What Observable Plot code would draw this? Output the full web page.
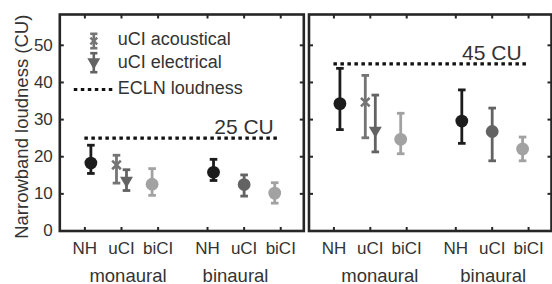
<!DOCTYPE html>
<html>
<head>
<meta charset="utf-8">
<script src="https://cdn.jsdelivr.net/npm/d3@7"></script>
<script src="https://cdn.jsdelivr.net/npm/@observablehq/plot@0.6"></script>
<style>
html, body { margin: 0; padding: 0; background: #fff; }
#chart { position: relative; width: 552px; height: 284px; overflow: hidden; font-family: "Liberation Sans", Arial, sans-serif; }
#chart svg { position: absolute; top: 0; }
</style>
</head>
<body>
<div id="chart"></div>
<script>
// ---- data ----
const conditions = ["NH", "uCI", "biCI"];
const modes = ["monaural", "binaural"];
const series = ["NH", "uCI acoustical", "uCI electrical", "biCI", "NH", "uCI", "biCI"];
const seriesMode = ["monaural", "monaural", "monaural", "monaural", "binaural", "binaural", "binaural"];
const levels = [25, 45]; // ECLN loudness (CU)
const yTicks = [0, 10, 20, 30, 40, 50];
const mean25 = [18.3, 17.8, 13.6, 12.6, 15.8, 12.5, 10.2];
const low25  = [15.5, 12.9, 10.9, 9.6, 13.6, 9.4, 7.5];
const high25 = [23.1, 20.4, 16.5, 16.8, 19.3, 15.1, 13.0];
const mean45 = [34.3, 34.7, 27.1, 24.7, 29.6, 26.8, 22.1];
const low45  = [27.3, 25.1, 21.3, 20.8, 23.6, 18.9, 18.9];
const high45 = [43.8, 41.9, 36.6, 31.7, 38.0, 33.1, 25.3];
const legendLabels = ["uCI acoustical", "uCI electrical", "ECLN loudness"];
const yLabel = "Narrowband loudness (CU)";

// ---- styles ----
const colorOf = {"NH": "#1c1c1c", "uCI": "#636363", "uCI acoustical": "#747474", "uCI electrical": "#636363", "biCI": "#a2a2a2"};
const offsetPx = {"NH": 6, "uCI": 0, "uCI acoustical": -5, "uCI electrical": 5, "biCI": -6};
const axisColor = "#262626";
const textColor = "#333";

const R = (s) => Math.sqrt(s / Math.PI);
const hline = {draw(c, s) { const r = R(s); c.moveTo(-r, 0); c.lineTo(r, 0); }};
const vline = {draw(c, s) { const r = R(s); c.moveTo(0, -r); c.lineTo(0, r); }};
const tickUp = {draw(c, s) { const r = R(s); c.moveTo(0, 0); c.lineTo(0, -r); }};
const tickDown = {draw(c, s) { const r = R(s); c.moveTo(0, 0); c.lineTo(0, r); }};
const tickRight = {draw(c, s) { const r = R(s); c.moveTo(0, 0); c.lineTo(r, 0); }};
const tickLeft = {draw(c, s) { const r = R(s); c.moveTo(0, 0); c.lineTo(-r, 0); }};

const pos = (m, c) => 1 + modes.indexOf(m) * 3.35 + conditions.indexOf(c);

function panel(li, cfg) {
  const level = levels[li];
  const mean = li === 0 ? mean25 : mean45;
  const low = li === 0 ? low25 : low45;
  const high = li === 0 ? high25 : high45;
  const xDomain = [0.315, 6.98], yDomain = [0, 58.3];
  const innerW = cfg.width - cfg.marginLeft - cfg.marginRight;
  const ppu = innerW / (xDomain[1] - xDomain[0]);
  const rows = series.map((s, i) => {
    const cond = s.split(" ")[0];
    return {series: s, cond, mode: seriesMode[i], x: pos(seriesMode[i], cond) + offsetPx[s] / ppu,
      mean: mean[i], lo: low[i], hi: high[i], color: colorOf[s]};
  });
  const ticksX = modes.flatMap(m => conditions.map(c => ({mode: m, cond: c, x: pos(m, c)})));
  const circles = rows.filter(d => d.series === d.cond);
  const acoustical = rows.filter(d => d.series === "uCI acoustical");
  const electrical = rows.filter(d => d.series === "uCI electrical");

  const marks = [
    Plot.frame({stroke: axisColor, strokeWidth: 2.6}),
    Plot.dot(ticksX, {x: "x", y: () => yDomain[0], symbol: tickUp, r: 4, stroke: axisColor, strokeWidth: 2, fill: "none"}),
    Plot.dot(ticksX, {x: "x", y: () => yDomain[1], symbol: tickDown, r: 4, stroke: axisColor, strokeWidth: 2, fill: "none"}),
    Plot.dot(yTicks, {x: () => xDomain[0], y: d => d, symbol: tickRight, r: 4, stroke: axisColor, strokeWidth: 2, fill: "none"}),
    Plot.dot(yTicks, {x: () => xDomain[1], y: d => d, symbol: tickLeft, r: 4, stroke: axisColor, strokeWidth: 2, fill: "none"}),
    Plot.text(ticksX, {x: "x", text: "cond", frameAnchor: "bottom", dy: 17.5, lineAnchor: "middle", fontSize: 17, fill: textColor}),
    Plot.text(modes, {x: (m, i) => pos(m, "uCI") + cfg.groupDx[i] / ppu, text: m => m, frameAnchor: "bottom", dy: 45.5, lineAnchor: "middle", fontSize: 18.5, fill: textColor}),
    Plot.ruleY([level], {y: d => d, x1: () => ticksX[0].x, x2: () => ticksX[ticksX.length - 1].x, stroke: "#111", strokeWidth: 3.2, strokeDasharray: "3.5,3.5"}),
    Plot.text([level], {x: () => ticksX[ticksX.length - 1].x, y: d => d, text: d => `${d} CU`, textAnchor: "end", lineAnchor: "bottom", dx: -7, dy: -4, fontSize: 21, fill: textColor}),
    Plot.ruleX(rows, {x: "x", y1: "lo", y2: "hi", stroke: "color", strokeWidth: 2.8}),
    Plot.dot(rows, {x: "x", y: "lo", symbol: hline, r: 3.8, stroke: "color", strokeWidth: 2.8, fill: "none"}),
    Plot.dot(rows, {x: "x", y: "hi", symbol: hline, r: 3.8, stroke: "color", strokeWidth: 2.8, fill: "none"}),
    Plot.dot(circles, {x: "x", y: "mean", r: 6.4, fill: "color", stroke: "none"}),
    Plot.dot(acoustical, {x: "x", y: "mean", symbol: "times", r: 4, stroke: "color", strokeWidth: 2.6, fill: "none"}),
    Plot.dot(electrical, {x: "x", y: "mean", symbol: "triangle", rotate: 180, r: 4.8, fill: "color", stroke: "none"})
  ];

  if (cfg.showY) {
    marks.push(
      Plot.text(yTicks, {y: d => d, text: d => String(d), frameAnchor: "left", dx: -7, textAnchor: "end", lineAnchor: "middle", fontSize: 17, fill: textColor}),
      Plot.text([yLabel], {text: d => d, frameAnchor: "left", rotate: -90, dx: -45.3, dy: 4, lineAnchor: "top", textAnchor: "middle", fontSize: 18.5, fill: textColor})
    );
  }

  if (cfg.legend) {
    const ca = colorOf["uCI acoustical"], ce = colorOf["uCI electrical"];
    const legendDy = [24.8, 47.6, 73.8];
    marks.push(
      // acoustical swatch
      Plot.dot([0], {frameAnchor: "top-left", dx: 34, dy: 26.5, symbol: vline, r: 7.2, stroke: ca, strokeWidth: 2.6, fill: "none"}),
      Plot.dot([0], {frameAnchor: "top-left", dx: 34, dy: 19.3, symbol: hline, r: 3.6, stroke: ca, strokeWidth: 2.6, fill: "none"}),
      Plot.dot([0], {frameAnchor: "top-left", dx: 34, dy: 33.7, symbol: hline, r: 3.6, stroke: ca, strokeWidth: 2.6, fill: "none"}),
      Plot.dot([0], {frameAnchor: "top-left", dx: 34, dy: 26.5, symbol: "times", r: 3.2, stroke: ca, strokeWidth: 2.4, fill: "none"}),
      // electrical swatch
      Plot.dot([0], {frameAnchor: "top-left", dx: 34, dy: 48.2, symbol: vline, r: 9.5, stroke: ce, strokeWidth: 2.6, fill: "none"}),
      Plot.dot([0], {frameAnchor: "top-left", dx: 34, dy: 38.7, symbol: hline, r: 3.6, stroke: ce, strokeWidth: 2.6, fill: "none"}),
      Plot.dot([0], {frameAnchor: "top-left", dx: 34, dy: 57.7, symbol: hline, r: 3.6, stroke: ce, strokeWidth: 2.6, fill: "none"}),
      Plot.dot([0], {frameAnchor: "top-left", dx: 34, dy: 47.5, symbol: "triangle", rotate: 180, r: 4.8, fill: ce, stroke: "none"}),
      // dotted line swatch
      Plot.dot([0], {frameAnchor: "top-left", dx: 33.3, dy: 75, symbol: hline, r: 19.3, stroke: "#111", strokeWidth: 3.2, strokeDasharray: "3.5,3.5", fill: "none"}),
      ...legendLabels.map((label, i) =>
        Plot.text([label], {frameAnchor: "top-left", dx: 58, dy: legendDy[i], text: d => d, fontSize: 18, fill: textColor, textAnchor: "start", lineAnchor: "middle"}))
    );
  }

  const svg = Plot.plot({
    width: cfg.width,
    height: 284,
    marginTop: 14,
    marginBottom: 53.5,
    marginLeft: cfg.marginLeft,
    marginRight: cfg.marginRight,
    x: {domain: xDomain, axis: null},
    y: {domain: yDomain, axis: null},
    color: {type: "identity"},
    style: {fontFamily: "'Liberation Sans', Arial, sans-serif", background: "transparent", overflow: "visible"},
    marks
  });
  svg.style.left = cfg.left + "px";
  return svg;
}

const chart = document.getElementById("chart");
chart.append(
  panel(0, {left: 0, width: 306, marginLeft: 59.3, marginRight: 2.7, showY: true, legend: true, groupDx: [6.5, -8.6]}),
  panel(1, {left: 306, width: 246, marginLeft: 2.5, marginRight: 1, showY: false, legend: false, groupDx: [9.5, 1]})
);
</script>
</body>
</html>
